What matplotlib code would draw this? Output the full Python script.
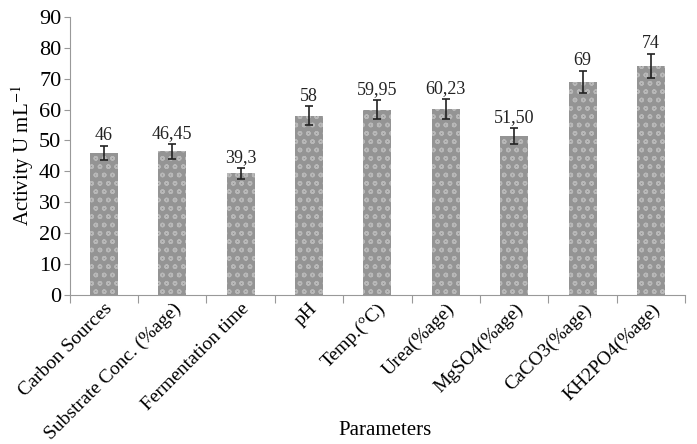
import matplotlib
matplotlib.use('Agg')
from matplotlib import pyplot as plt
import numpy as np

plt.rcParams['font.family'] = 'Liberation Serif'
plt.rcParams['mathtext.fontset'] = 'stix'
plt.rcParams['hatch.color'] = '#cfcfcf'
plt.rcParams['hatch.linewidth'] = 1.0

# data
params = ['Carbon Sources', 'Substrate Conc. (%age)', 'Fermentation time', 'pH',
          'Temp.(°C)', 'Urea(%age)', 'MgSO4(%age)', 'CaCO3(%age)', 'KH2PO4(%age)']
activity = [46, 46.45, 39.3, 58, 59.95, 60.23, 51.5, 69, 74]
errors = [2.3, 2.4, 1.8, 3.0, 3.1, 3.2, 2.6, 3.5, 3.9]
value_labels = ['46', '46,45', '39,3', '58', '59,95', '60,23', '51,50', '69', '74']

fig = plt.figure(figsize=(6.97, 4.44), dpi=100)
ax = fig.add_axes([0.100, 0.336, 0.883, 0.626])

x = np.arange(len(params))
ax.bar(x, activity, width=0.41, color='#949494', edgecolor='#b8b8b8',
       hatch='oo', linewidth=0, zorder=2)
ax.errorbar(x, activity, yerr=errors, fmt='none', ecolor='#222222',
            elinewidth=1.2, capsize=3, capthick=1.2, zorder=3)

for xi, v, e, lab in zip(x, activity, errors, value_labels):
    ax.text(xi, v + e + 0.6, lab, ha='center', va='bottom', fontsize=13,
            color='#222222')

ax.set_xlim(-0.5, len(params) - 0.5)
ax.set_ylim(0, 90)
ax.set_yticks(range(0, 91, 10))
ax.tick_params(axis='y', labelsize=16, length=4, color='#999999', pad=2)

# category boundaries as ticks, labels at bar centres
ax.set_xticks(np.arange(-0.5, len(params), 1.0))
ax.set_xticklabels([])
ax.set_xticks(x, minor=True)
ax.set_xticklabels(params, minor=True, rotation=45, ha='right',
                   rotation_mode='anchor', fontsize=14)
ax.tick_params(axis='x', which='major', length=6, color='#999999')
ax.tick_params(axis='x', which='minor', length=0, pad=4)

for s in ['top', 'right']:
    ax.spines[s].set_visible(False)
for s in ['left', 'bottom']:
    ax.spines[s].set_color('#999999')

ax.set_ylabel('Activity U mL$^{-1}$', fontsize=15, labelpad=2)
fig.text(0.553, 0.03, 'Parameters', ha='center', va='center', fontsize=15)

fig.savefig('out.png', dpi=100)
